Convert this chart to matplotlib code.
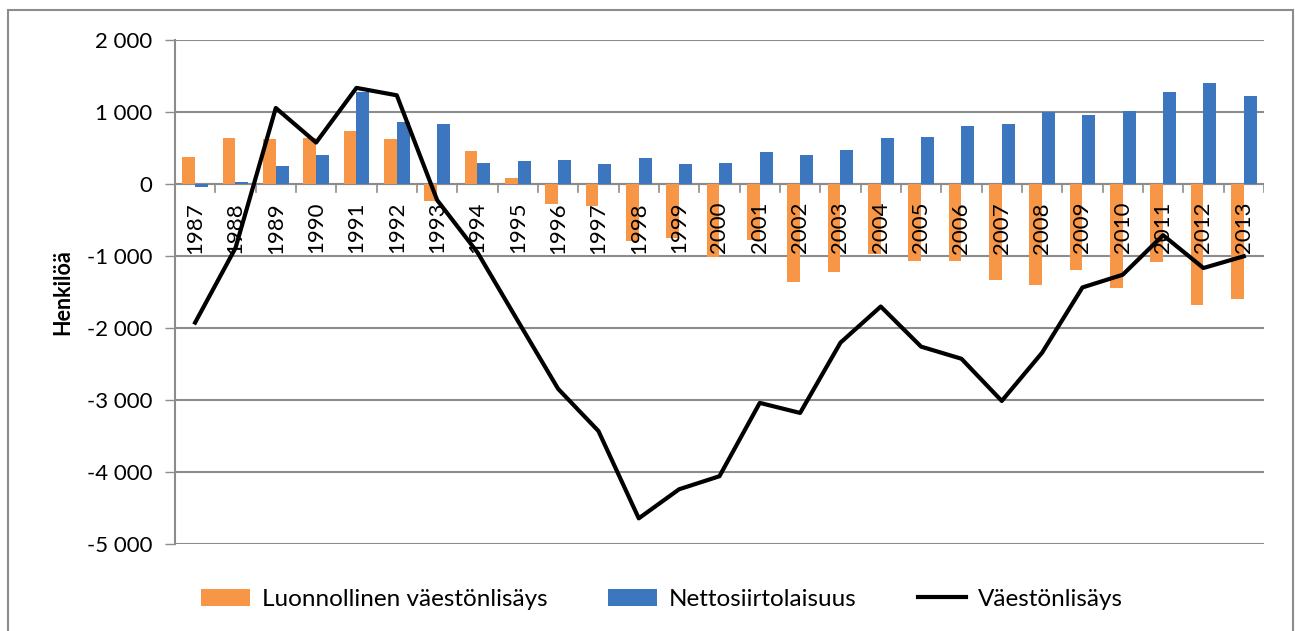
import numpy as np
import matplotlib.pyplot as plt
from matplotlib.patches import Rectangle
from matplotlib.ticker import FuncFormatter, MultipleLocator

plt.rcParams['font.family'] = ['Lato', 'DejaVu Sans']

#%% Data
vuodet = [str(v) for v in range(1987, 2014)]
luonnollinen = [381, 642, 628, 642, 730, 628, -242, 465, 79, -279, -302, -791, -753,
                -1009, -777, -1363, -1219, -967, -1065, -1065, -1340, -1405, -1200,
                -1451, -1079, -1674, -1591]
netto = [-37, 28, 256, 405, 1279, 856, 828, 298, 326, 340, 279, 367, 279, 293, 451,
         400, 470, 642, 651, 809, 828, 1005, 953, 1009, 1279, 1405, 1219]
vaestonlisays = [-1925, -890, 1056, 576, 1335, 1232, -223, -950, -1900, -2845, -3431,
                 -4644, -4240, -4059, -3040, -3180, -2204, -1702, -2259, -2427, -3013,
                 -2343, -1437, -1260, -711, -1167, -1004]

#%% Figure
fig = plt.figure(figsize=(12.95, 6.31), dpi=100)
ax = fig.add_axes([0.1351, 0.1379, 0.8409, 0.7987])

x = np.arange(len(vuodet))
w = 0.32
b1 = ax.bar(x - w/2, luonnollinen, w, color='#F79646', zorder=2,
            label='Luonnollinen väestönlisäys')
b2 = ax.bar(x + w/2, netto, w, color='#3C76BE', zorder=2, label='Nettosiirtolaisuus')
l1, = ax.plot(x, vaestonlisays, color='black', lw=3.0, zorder=3, label='Väestönlisäys')

ax.set_xlim(-0.5, len(vuodet) - 0.5)
ax.set_ylim(-5000, 2000)
ax.yaxis.set_major_locator(MultipleLocator(1000))
ax.yaxis.set_major_formatter(FuncFormatter(lambda v, p: f'{int(v):,}'.replace(',', ' ')))
ax.grid(axis='y', color='#8c8c8c', lw=1.5, zorder=0)
ax.tick_params(axis='y', length=7, width=1, color='#8c8c8c', labelsize=16, pad=9)

# x-akseli nollakohdassa
for s in ['top', 'right', 'bottom']:
    ax.spines[s].set_visible(False)
ax.spines['left'].set_color('#8c8c8c')
ax.spines['left'].set_linewidth(1.5)
ax.axhline(0, color='#8c8c8c', lw=1.5, zorder=1)
ax.set_xticks([])
for i in range(len(vuodet) + 1):
    ax.plot([i - 0.5, i - 0.5], [0, -110], color='#8c8c8c', lw=1.2, zorder=1)
for i, v in enumerate(vuodet):
    ax.text(i, -250, v, rotation=90, ha='center', va='top', fontsize=16, zorder=4)

ax.set_ylabel('Henkilöä', fontsize=15.5, fontweight='bold', labelpad=10)

ax.legend(handles=[b1, b2, l1], loc='upper left', bbox_to_anchor=(0.004, -0.045),
          ncol=3, frameon=False, fontsize=17.5, handlelength=2.0, columnspacing=2.5,
          handletextpad=0.5)

fig.patches.append(Rectangle((8/1295, -0.1), (1293-8)/1295, 1.1 - 10/631,
                             transform=fig.transFigure, fill=False,
                             edgecolor='#8c8c8c', lw=1.5))

plt.savefig('out.png', dpi=100)
